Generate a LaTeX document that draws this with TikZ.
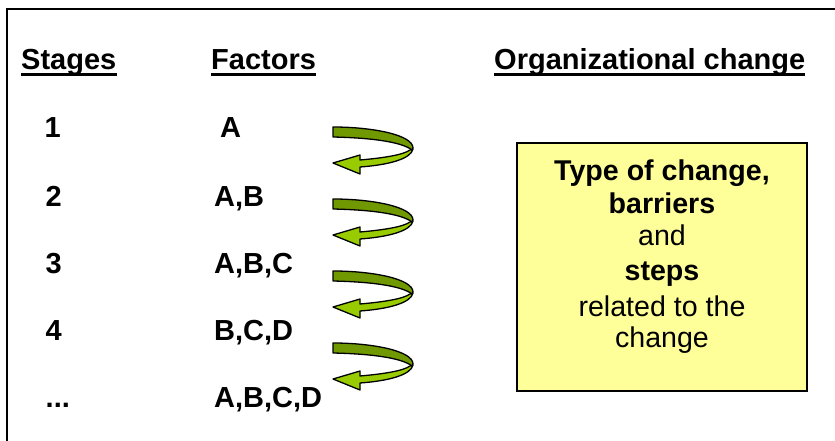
\documentclass[tikz,border=0pt]{standalone}
\usepackage{fontspec}
\setmainfont{Liberation Sans}
\definecolor{darkg}{RGB}{112,152,0}
\definecolor{lightg}{RGB}{153,204,0}
\definecolor{boxy}{RGB}{255,255,153}
\tikzset{
  txt/.style={inner sep=0pt, anchor=base west, font=\fontsize{29}{34}\selectfont\bfseries},
  boxtxt/.style={inner sep=0pt, anchor=base, font=\fontsize{28.6}{33}\selectfont},
  uline/.style={line width=2.6pt},
  uturn/.pic={
    \filldraw[fill=lightg, draw=black, line width=1.3pt, line join=round]
      (80,22) .. controls (78,32) and (55,38) .. (27,40) -- (27,47) -- (0,36) -- (27,28) -- (27,33)
      .. controls (50,31) and (70,28) .. (77,23) -- cycle;
    \filldraw[fill=darkg, draw=black, line width=1.3pt, line join=round]
      (0,0) .. controls (40,0) and (80,8) .. (80,21) -- (79,23)
      .. controls (70,16) and (45,11) .. (0,10) -- cycle;
  }
}
\begin{document}
\begin{tikzpicture}[x=1pt,y=-1pt]
\useasboundingbox (0,0) rectangle (835,441);
% frame (left and top edges)
\draw[line width=2pt] (6.5,441) -- (6.5,9) -- (835,9);
% headers
\node[txt] (h1) at (21,69.3) {Stages};
\node[txt] (h2) at (211,69.3) {Factors};
\node[txt] (h3) at (494,69.3) {Organizational change};
\foreach \h in {h1,h2,h3}{
  \draw[uline] ([yshift=-5pt]\h.base west) -- ([yshift=-5pt]\h.base east);
}
% stages
\node[txt] (s1) at (44.5,138) {1};
\node[txt] (s2) at (45.5,206) {2};
\node[txt] (s3) at (45.5,273) {3};
\node[txt] (s4) at (45.5,340) {4};
\node[txt] (s5) at (45.5,407) {...};
% factors
\node[txt] (f1) at (220,138) {A};
\node[txt] (f2) at (214,206) {A,B};
\node[txt] (f3) at (214,273) {A,B,C};
\node[txt] (f4) at (214,340) {B,C,D};
\node[txt] (f5) at (214,407) {A,B,C,D};
% curved arrows
\pic at (333,127) {uturn};
\pic at (333,199) {uturn};
\pic at (333,271) {uturn};
\pic at (333,343) {uturn};
% yellow box
\node[draw=black, line width=1.6pt, fill=boxy, minimum width=290pt, minimum height=248pt, inner sep=0pt] (box) at (662,267) {};
\node[boxtxt, font=\fontsize{28.6}{33}\selectfont\bfseries] (t1) at (662,180) {Type of change,};
\node[boxtxt, font=\fontsize{28.6}{33}\selectfont\bfseries] (t2) at (662,213) {barriers};
\node[boxtxt] (t3) at (662,245) {and};
\node[boxtxt, font=\fontsize{28.6}{33}\selectfont\bfseries] (t4) at (662,280.5) {steps};
\node[boxtxt] (t5) at (662,316.5) {related to the};
\node[boxtxt] (t6) at (662,347) {change};
\end{tikzpicture}
\end{document}
